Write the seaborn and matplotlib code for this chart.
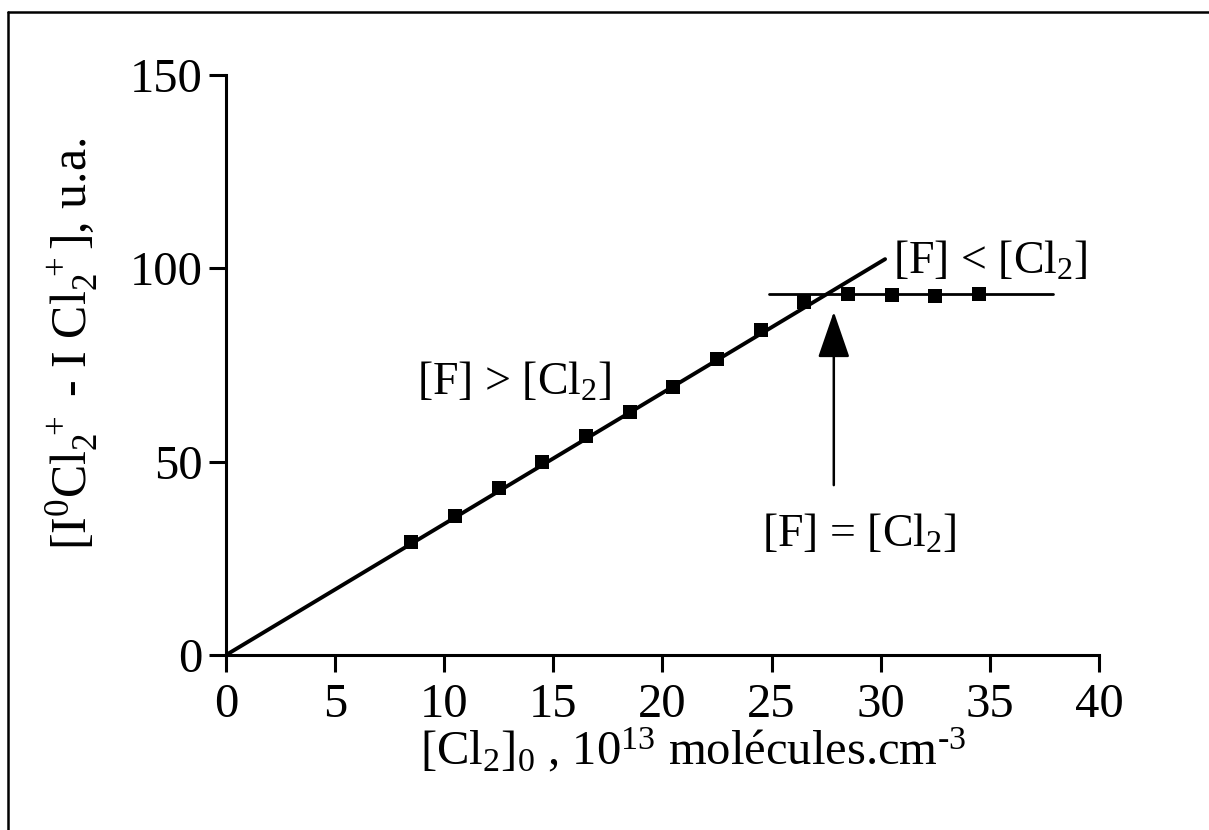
import matplotlib
matplotlib.use("Agg")
import matplotlib.pyplot as plt
from matplotlib.lines import Line2D
import seaborn as sns
import pandas as pd

# ---- data ----
cl2_conc = [8.5, 10.5, 12.5, 14.5, 16.5, 18.5, 20.5, 22.5, 24.5, 26.5, 28.5, 30.5, 32.5, 34.5]
signal   = [29.3, 36.0, 43.1, 49.9, 56.7, 62.9, 69.3, 76.5, 84.0, 91.1, 93.2, 93.0, 92.8, 93.3]

fit_x = [0.0, 30.2]          # linear regime [F] > [Cl2]
fit_y = [0.0, 102.3]
plateau_x = [24.9, 37.9]     # plateau [F] < [Cl2]
plateau_y = [93.3, 93.3]

arrow_x = 27.85
arrow_y_from, arrow_y_to = 43.9, 88.7

x_ticks = [0, 5, 10, 15, 20, 25, 30, 35, 40]
y_ticks = [0, 50, 100, 150]

sns.set_theme(style="ticks")
plt.rcParams['font.family'] = ['Liberation Serif', 'DejaVu Serif']
plt.rcParams['mathtext.fontset'] = 'custom'
plt.rcParams['mathtext.rm'] = 'Liberation Serif'
plt.rcParams['mathtext.it'] = 'Liberation Serif'
plt.rcParams['mathtext.bf'] = 'Liberation Serif'
plt.rcParams['text.color'] = 'black'
plt.rcParams['axes.labelcolor'] = 'black'
plt.rcParams['xtick.color'] = 'black'
plt.rcParams['ytick.color'] = 'black'

fig = plt.figure(figsize=(12.09, 8.30), dpi=100)
ax = fig.add_axes([0.1869, 0.2108, 0.909 - 0.1869, 0.9102 - 0.2108])

df = pd.DataFrame({"x": cl2_conc, "y": signal})
sns.lineplot(x=fit_x, y=fit_y, ax=ax, color="black", linewidth=2.8)
sns.lineplot(x=plateau_x, y=plateau_y, ax=ax, color="black", linewidth=2.0)
sns.scatterplot(data=df, x="x", y="y", ax=ax, marker="s", s=115, color="black",
                edgecolor="black", linewidth=0, zorder=5)

ax.annotate("", xy=(arrow_x, arrow_y_to), xytext=(arrow_x, arrow_y_from),
            arrowprops=dict(arrowstyle="-|>,head_length=1.45,head_width=0.5",
                            mutation_scale=20, color="black", lw=1.8,
                            shrinkA=0, shrinkB=0))

ax.text(8.75, 70.3, r"[F] > [Cl$_2$]", fontsize=33, va="center", ha="left")
ax.text(30.55, 101.5, r"[F] < [Cl$_2$]", fontsize=33, va="center", ha="left")
ax.text(24.55, 31.0, r"[F] = [Cl$_2$]", fontsize=33, va="center", ha="left")

ax.set_xlim(0, 40)
ax.set_ylim(0, 150)
ax.set_xticks(x_ticks)
ax.set_yticks(y_ticks)
ax.set_xticklabels([str(v) for v in x_ticks])
ax.set_yticklabels([str(v) for v in y_ticks])
ax.tick_params(axis="both", direction="out", length=12, width=2.2, colors="black",
               labelsize=35)
ax.tick_params(axis="x", pad=8)
ax.tick_params(axis="y", pad=5)

for side in ["top", "right"]:
    ax.spines[side].set_visible(False)
for side in ["left", "bottom"]:
    ax.spines[side].set_linewidth(2.2)
    ax.spines[side].set_color("black")

ax.set_xlabel(r"[Cl$_2$]$_0$ , 10$^{13}$ molécules.cm$^{\text{-}3}$", fontsize=35)
ax.set_ylabel(r"[I$^0$Cl$_2^{\ +}$ - I Cl$_2^{\ +}$], u.a.", fontsize=36)
ax.xaxis.set_label_coords(0.535, -0.163)
ax.yaxis.set_label_coords(-0.175, 0.537)
ax.xaxis.label.set_va("center")
ax.yaxis.label.set_va("center")

# frame lines of the scanned figure (top and left only)
fig.add_artist(Line2D([8 / 1209, 1.0], [1 - 12 / 830, 1 - 12 / 830],
                      transform=fig.transFigure, color="black", lw=1.8))
fig.add_artist(Line2D([8 / 1209, 8 / 1209], [0.0, 1 - 12 / 830],
                      transform=fig.transFigure, color="black", lw=1.8))

fig.savefig("out.png", dpi=100, facecolor="white")
